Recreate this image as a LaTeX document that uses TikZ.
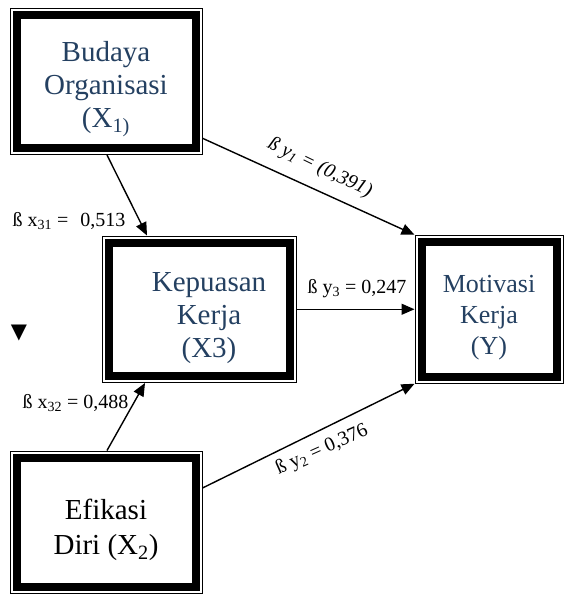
\documentclass[tikz,border=0pt]{standalone}
\usepackage{fontspec}
\setmainfont{Liberation Serif}
\newfontfamily\symfont{DejaVu Sans}
\usepackage{xcolor}
\usetikzlibrary{arrows.meta}
\usetikzlibrary{positioning}
\definecolor{boxblue}{RGB}{36,64,97}
\newcommand{\topgap}{\rule{0pt}{36pt}}
\newcommand{\kkgap}{\hspace*{20pt}}

\begin{document}
\begin{tikzpicture}[x=1pt,y=-1pt,>={Triangle[length=13pt,width=11pt]},line width=1.4pt]
	\tikzstyle{varbox}=[draw,line width=1pt,fill=white,inner sep=0pt,align=center,
		path picture={\draw[line width=8pt] ([shift={(6.5pt,-6.5pt)}]path picture bounding box.north west) rectangle ([shift={(-6.5pt,6.5pt)}]path picture bounding box.south east);}]
	\tikzstyle{bigtext}=[font=\fontsize{29}{33}\selectfont,text=boxblue]
	\tikzstyle{coef}=[font=\fontsize{20}{24}\selectfont,inner sep=0pt]
	\useasboundingbox (0,0) rectangle (563,595);

		\node[varbox,bigtext,minimum width=192pt,minimum height=146.5pt] (BO) at (106,81.25) {\topgap Budaya\\Organisasi\\(X\textsubscript{1)}};
		\node[varbox,bigtext,minimum width=194pt,minimum height=146.5pt] (KK) at (199,309.25) {\topgap\kkgap Kepuasan\\\kkgap Kerja\\\kkgap (X3)};
		\node[varbox,bigtext,font=\fontsize{26}{31}\selectfont,minimum width=148pt,minimum height=148pt] (MK) [right=118pt of KK] {\rule{0pt}{34pt}Motivasi\\Kerja\\(Y)};
		\node[varbox,font=\fontsize{29}{35}\selectfont,minimum width=192pt,minimum height=142pt] (ED) [below=295.5pt of BO] {\topgap Efikasi\\Diri (X\textsubscript{2})};

		% jalur
		\draw[->] ([xshift=1pt]BO.south) -- ([xshift=-52pt]KK.north);
		\draw[->] ([yshift=-57pt]BO.east) -- (MK.north west);
		\draw[->] (KK.east) -- (KK.east -| MK.west);
		\draw[->] ([xshift=1pt]ED.north) -- ([xshift=-54pt]KK.south);
		\draw[->] ([yshift=34pt]ED.east) -- (MK.south west);

		% koefisien
		\node[coef,anchor=base west] (lx31) at (12,226) {ß x\textsubscript{31} =\hspace{12pt}0,513};
		\node[coef,rotate=-26] (ly1) at (320,168) {\itshape ß y\textsubscript{1} = (0,391)};
		\node[coef,anchor=base west] (ly3) at (307,293) {ß y\textsubscript{3} = 0,247};
		\node[coef,anchor=base west] (lx32) at (22,408) {ß x\textsubscript{32} = 0,488};
		\node[coef,rotate=24] (ly2) at (322,450) {ß y\textsubscript{2} = 0,376};
		\node[font=\symfont\fontsize{21}{21}\selectfont] (mark) at (19,333) {▼};
\end{tikzpicture}
\end{document}
